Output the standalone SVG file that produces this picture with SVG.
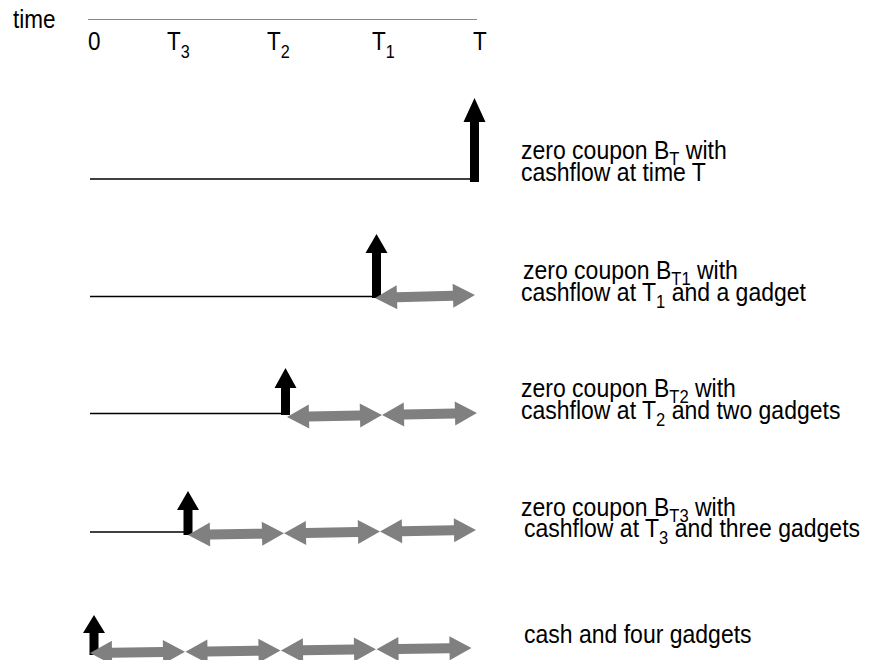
<svg xmlns="http://www.w3.org/2000/svg" width="884" height="660" viewBox="0 0 884 660">
<style>
text{font-family:"Liberation Sans",Arial,sans-serif;font-size:25px;fill:#000}
.sub{font-size:18px}
.tl{stroke:#000;stroke-width:1.4;fill:none}
.axis{stroke:#888;stroke-width:1.2;fill:none}
.cash{fill:#000}
.gad{fill:#808080}
</style>
<defs>
<polygon id="g100" points="0,0 22,-12 22,-5 78,-5 78,-12 100,0 78,12 78,5 22,5 22,12"/>
<polygon id="g96" points="0,0 22,-12 22,-5 74,-5 74,-12 96,0 74,12 74,5 22,5 22,12"/>
<polygon id="g95" points="0,0 22,-12 22,-5 73,-5 73,-12 95,0 73,12 73,5 22,5 22,12"/>
</defs>

<g id="axis">
<line class="axis" x1="88" y1="19.5" x2="477" y2="19.5"/>
<text transform="translate(13,28) scale(0.9,1)">time</text>
<text transform="translate(88,50) scale(0.9,1)">0</text>
<text transform="translate(167,50) scale(0.9,1)">T<tspan class="sub" dy="8">3</tspan></text>
<text transform="translate(267,50) scale(0.9,1)">T<tspan class="sub" dy="8">2</tspan></text>
<text transform="translate(372,50) scale(0.9,1)">T<tspan class="sub" dy="8">1</tspan></text>
<text transform="translate(473,50) scale(0.9,1)">T</text>
</g>

<g id="connectors">
<line class="tl" x1="90" y1="179" x2="471" y2="179"/>
<line class="tl" x1="90" y1="296.5" x2="373" y2="296.5"/>
<line class="tl" x1="90" y1="413.5" x2="282" y2="413.5"/>
<line class="tl" x1="90" y1="532" x2="185" y2="532"/>
</g>

<g id="row1">
<polygon class="cash" points="470,182 470,122 463.5,122 474.5,98 485.5,122 479,122 479,182"/>
<text transform="translate(521,159) scale(0.92,1)">zero coupon B<tspan class="sub" dy="6">T</tspan><tspan dy="-6"> with</tspan></text>
<text transform="translate(521,181) scale(0.92,1)">cashflow at time T</text>
</g>

<g id="row2">
<polygon class="cash" points="372,298 372,253 365.5,253 376.5,234 387.5,253 381,253 381,298"/>
<use class="gad" href="#g100" transform="translate(375,298) rotate(-1.7)"/>
<text transform="translate(523,279) scale(0.92,1)">zero coupon B<tspan class="sub" dy="6">T1</tspan><tspan dy="-6"> with</tspan></text>
<text transform="translate(521,301) scale(0.92,1)">cashflow at T<tspan class="sub" dy="7">1</tspan><tspan dy="-7"> and a gadget</tspan></text>
</g>

<g id="row3">
<polygon class="cash" points="281,415 281,388 274.5,388 285.5,368 296.5,388 290,388 290,415"/>
<use class="gad" href="#g95" transform="translate(287,417) rotate(-1.2)"/>
<use class="gad" href="#g95" transform="translate(382,415) rotate(-1.2)"/>
<text transform="translate(521,397) scale(0.92,1)">zero coupon B<tspan class="sub" dy="6">T2</tspan><tspan dy="-6"> with</tspan></text>
<text transform="translate(521,419) scale(0.92,1)">cashflow at T<tspan class="sub" dy="7">2</tspan><tspan dy="-7"> and two gadgets</tspan></text>
</g>

<g id="row4">
<polygon class="cash" points="183.5,535 183.5,510 177,510 188,491 199,510 192.5,510 192.5,535"/>
<use class="gad" href="#g96" transform="translate(188,535) rotate(-1)"/>
<use class="gad" href="#g96" transform="translate(284,533.3) rotate(-1)"/>
<use class="gad" href="#g96" transform="translate(380,531.6) rotate(-1)"/>
<text transform="translate(521,516) scale(0.92,1)">zero coupon B<tspan class="sub" dy="6">T3</tspan><tspan dy="-6"> with</tspan></text>
<text transform="translate(524,537) scale(0.92,1)">cashflow at T<tspan class="sub" dy="7">3</tspan><tspan dy="-7"> and three gadgets</tspan></text>
</g>

<g id="row5">
<polygon class="cash" points="89.5,655 89.5,633 83,633 94,615 105,633 98.5,633 98.5,655"/>
<use class="gad" href="#g95" transform="translate(90,653) rotate(-0.75)"/>
<use class="gad" href="#g95" transform="translate(185.5,651.75) rotate(-0.75)"/>
<use class="gad" href="#g95" transform="translate(281,650.5) rotate(-0.75)"/>
<use class="gad" href="#g95" transform="translate(376.5,649.25) rotate(-0.75)"/>
<text transform="translate(524,643) scale(0.92,1)">cash and four gadgets</text>
</g>
</svg>
